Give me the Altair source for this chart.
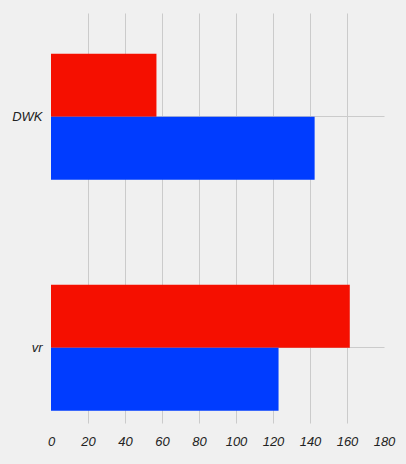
import altair as alt
import pandas as pd

categories = ["DWK", "vr"]
series_names = ["s1", "s2"]
red_values = [57, 161.5]
blue_values = [142.5, 123]
x_ticks = [0, 20, 40, 60, 80, 100, 120, 140, 160, 180]

rows = []
for c, r, b in zip(categories, red_values, blue_values):
    rows.append({"cat": c, "series": series_names[0], "value": r})
    rows.append({"cat": c, "series": series_names[1], "value": b})
df = pd.DataFrame(rows)

chart = alt.Chart(df).mark_bar().encode(
    x=alt.X("value:Q", scale=alt.Scale(domain=[0, 180], nice=False),
            axis=alt.Axis(values=x_ticks, title=None, domain=False, ticks=False,
                          labelFont="Liberation Sans", labelFontStyle="italic",
                          labelFontSize=13, labelColor="#222222", labelPadding=12,
                          labelFlush=False, labelOverlap=False,
                          gridColor="#cbcbcb", gridWidth=1,
                          gridOpacity={"condition": {"test": "datum.value === 180 || datum.value === 0", "value": 0}, "value": 1})),
    y=alt.Y("cat:N", sort=categories,
            scale=alt.Scale(paddingInner=0.4545, paddingOuter=0.1147, align=0.77),
            axis=alt.Axis(title=None, domain=False, ticks=False, grid=True,
                          labelFont="Liberation Sans", labelFontStyle="italic",
                          labelFontSize=13, labelColor="#222222", labelPadding=9,
                          gridColor="#cbcbcb", gridWidth=1)),
    yOffset=alt.YOffset("series:N", sort=series_names, scale=alt.Scale(paddingInner=0, paddingOuter=0)),
    color=alt.Color("series:N", scale=alt.Scale(domain=series_names, range=["#f50f00", "#003cff"]),
                    legend=None),
).properties(
    width=333, height=410,
    background="#f0f0f0",
    padding={"left": 51, "top": 13, "right": 22, "bottom": 41},
    autosize=alt.AutoSizeParams(type="none"),
).configure_view(stroke=None, fill="#f0f0f0")

chart.save("out.html", embed_options={"renderer": "svg", "actions": False})
